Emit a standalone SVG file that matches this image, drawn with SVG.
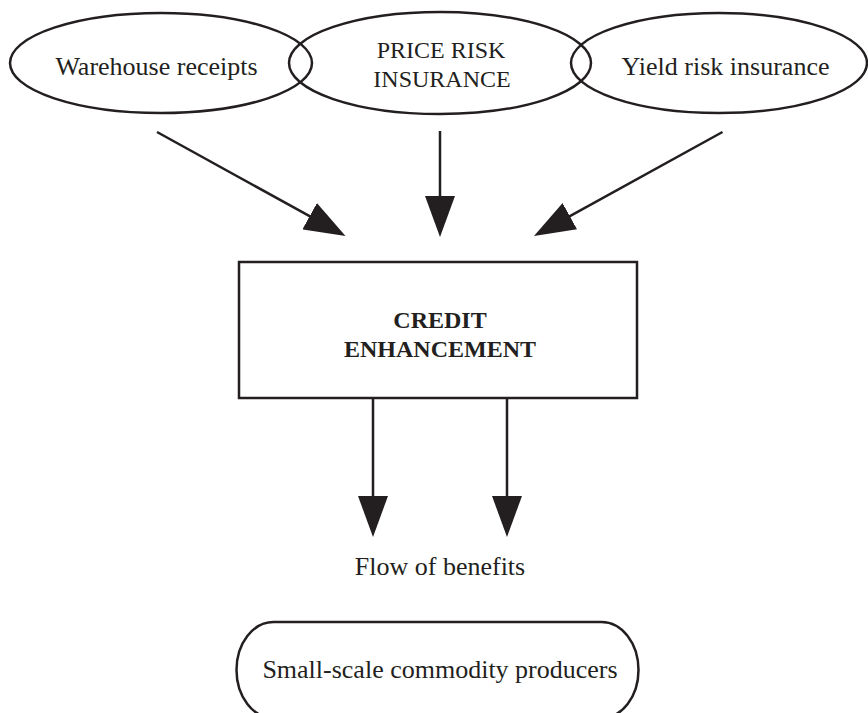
<svg xmlns="http://www.w3.org/2000/svg" width="868" height="713" viewBox="0 0 868 713">
  <style>
    .shape { fill: none; stroke: #231f20; stroke-width: 2.5; }
    .label { font-family: "Liberation Serif", "Times New Roman", serif; font-size: 26px; fill: #231f20; text-anchor: middle; }
    .caps { font-size: 24px; }
    .bold { font-weight: bold; font-size: 24px; }
    .link { fill: none; stroke: #231f20; stroke-width: 2.5; marker-end: url(#head); }
  </style>
  <defs>
    <marker id="head" markerUnits="userSpaceOnUse" markerWidth="42" markerHeight="30" refX="1" refY="15" orient="auto">
      <path d="M0,0 L41,15 L0,30 Z" fill="#231f20"/>
    </marker>
  </defs>
  <rect width="868" height="713" fill="#ffffff"/>

  <g id="warehouse-receipts">
    <ellipse class="shape" cx="161" cy="63" rx="151" ry="50"/>
    <text class="label" x="156.5" y="75">Warehouse receipts</text>
  </g>

  <g id="price-risk-insurance">
    <ellipse class="shape" cx="440" cy="63" rx="151" ry="51"/>
    <text class="label caps" x="441" y="58">PRICE RISK</text>
    <text class="label caps" x="442" y="87">INSURANCE</text>
  </g>

  <g id="yield-risk-insurance">
    <ellipse class="shape" cx="719" cy="63" rx="148" ry="50"/>
    <text class="label" x="725.5" y="75">Yield risk insurance</text>
  </g>

  <g id="credit-enhancement">
    <rect class="shape" x="239" y="262" width="398" height="136"/>
    <text class="label bold" x="440" y="328">CREDIT</text>
    <text class="label bold" x="440" y="357">ENHANCEMENT</text>
  </g>

  <g id="flow-of-benefits">
    <text class="label" x="440" y="575">Flow of benefits</text>
  </g>

  <g id="small-scale-producers">
    <rect class="shape" x="236.5" y="622" width="402" height="96" rx="37" ry="48"/>
    <text class="label" x="440" y="678">Small-scale commodity producers</text>
  </g>

  <g id="connectors">
    <line class="link" x1="157" y1="132" x2="310.5" y2="216.7"/>
    <line class="link" x1="440" y1="131" x2="440" y2="197"/>
    <line class="link" x1="722.5" y1="132" x2="569" y2="216.7"/>
    <line class="link" x1="373" y1="398" x2="373" y2="497"/>
    <line class="link" x1="507" y1="398" x2="507" y2="497"/>
  </g>
</svg>
